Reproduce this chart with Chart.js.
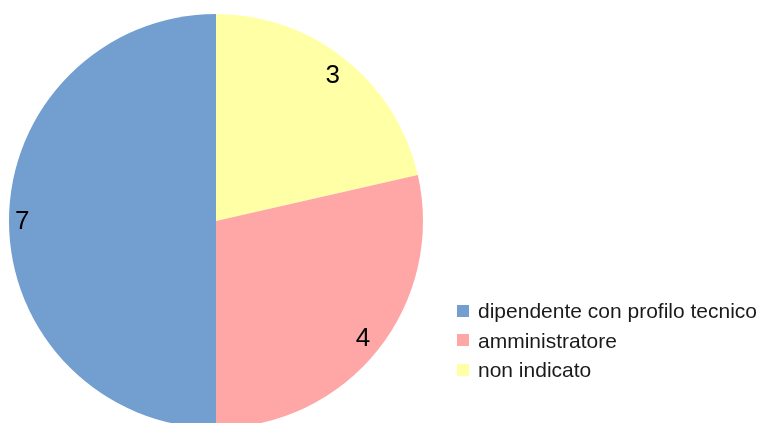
<!DOCTYPE html>
<html>
<head>
<meta charset="utf-8">
<script src="https://cdn.jsdelivr.net/npm/chart.js@4/dist/chart.umd.min.js"></script>
<style>
  html, body { margin: 0; padding: 0; background: #fff; overflow: hidden; }
  #wrap { position: relative; width: 763px; height: 423px; overflow: hidden; }
  #pie { position: absolute; left: 0; top: 0; }
  #legend { position: absolute; left: 457px; top: 296px; font-family: "Liberation Sans", Arial, sans-serif; font-size: 21px; color: #1a1a1a; }
  #legend .item { height: 29.5px; line-height: 29.5px; white-space: nowrap; display: flex; align-items: center; }
  #legend .box { width: 12px; height: 12px; margin-right: 9px; flex: none; }
</style>
</head>
<body>
<div id="wrap">
  <canvas id="pie" width="763" height="430"></canvas>
  <div id="legend"></div>
</div>
<script>
// legend order (LibreOffice draws slices counter-clockwise from the top)
const categories = ['dipendente con profilo tecnico', 'amministratore', 'non indicato'];
const values = [7, 4, 3];
const colors = ['#729fcf', '#ffa6a6', '#ffffa6'];

// draw value labels inside each slice, near the rim
const sliceLabels = {
    id: 'sliceLabels',
    afterDatasetsDraw(chart) {
        const ctx = chart.ctx;
        const meta = chart.getDatasetMeta(0);
        ctx.save();
        ctx.font = '26px "Liberation Sans", Arial, sans-serif';
        ctx.fillStyle = '#000';
        ctx.textAlign = 'center';
        ctx.textBaseline = 'middle';
        meta.data.forEach((arc, i) => {
            const p = arc.getProps(['x', 'y', 'startAngle', 'endAngle', 'outerRadius']);
            const mid = (p.startAngle + p.endAngle) / 2;
            const text = String(chart.data.datasets[0].data[i]);
            const hw = ctx.measureText(text).width / 2;
            const hh = 12;
            const c = Math.cos(mid), s = Math.sin(mid);
            const r = p.outerRadius - 6 - (hw * Math.abs(c) + hh * Math.abs(s));
            // shift a bit so the glyph box (not the baseline) is centred
            ctx.fillText(text, p.x + c * r, p.y + s * r + 1);
        });
        ctx.restore();
    }
};

const chartLabels = categories.slice().reverse();
const chartValues = values.slice().reverse();
const chartColors = colors.slice().reverse();

const chart = new Chart(document.getElementById('pie'), {
    type: 'pie',
    data: {
        labels: chartLabels,
        datasets: [{
            data: chartValues,
            backgroundColor: chartColors,
            borderWidth: 0
        }]
    },
    options: {
        responsive: false,
        animation: false,
        layout: {
            padding: { left: 9, top: 14, right: 340, bottom: 2 }
        },
        plugins: {
            legend: { display: false },
            tooltip: { enabled: false }
        }
    },
    plugins: [sliceLabels]
});

// legend in the original order
const legend = document.getElementById('legend');
categories.forEach((name, i) => {
    const row = document.createElement('div');
    row.className = 'item';
    const box = document.createElement('span');
    box.className = 'box';
    box.style.background = colors[i];
    const label = document.createElement('span');
    label.textContent = name;
    row.appendChild(box);
    row.appendChild(label);
    legend.appendChild(row);
});
</script>
</body>
</html>
